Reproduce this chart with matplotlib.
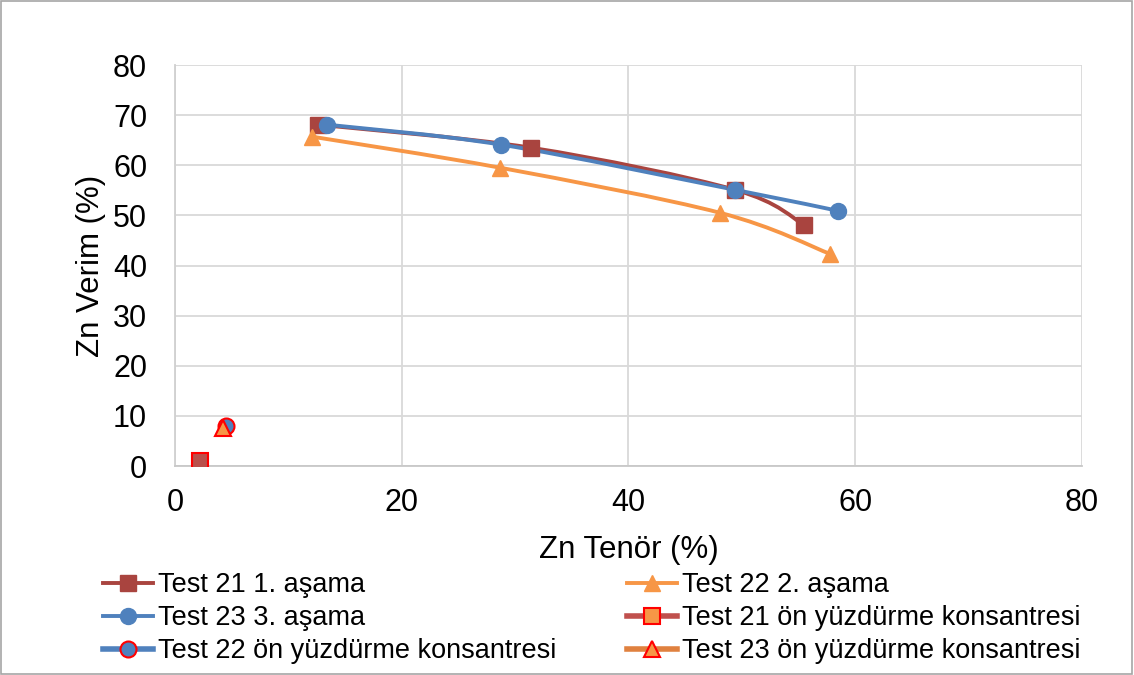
import matplotlib.pyplot as plt
from matplotlib.path import Path
from matplotlib.patches import PathPatch, Rectangle
from matplotlib.lines import Line2D
import numpy as np

plt.rcParams["font.family"] = ["Liberation Sans", "DejaVu Sans"]

# Aşama deneyleri (Zn tenör %, Zn verim %)
t21_x = [12.6, 31.4, 49.4, 55.5]
t21_y = [68.1, 63.5, 55.1, 48.1]
t22_x = [12.1, 28.7, 48.1, 57.8]
t22_y = [65.7, 59.5, 50.5, 42.3]
t23_x = [13.4, 28.8, 49.4, 58.5]
t23_y = [68.1, 64.1, 55.1, 50.9]

# Ön yüzdürme konsantreleri
on21_x, on21_y = [2.2], [1.0]
on22_x, on22_y = [4.5], [8.0]
on23_x, on23_y = [4.2], [7.5]

labels = ["Test 21 1. aşama", "Test 22 2. aşama", "Test 23 3. aşama",
          "Test 21 ön yüzdürme konsantresi", "Test 22 ön yüzdürme konsantresi",
          "Test 23 ön yüzdürme konsantresi"]

C_RED = "#A9443F"
C_ORANGE = "#F79646"
C_BLUE = "#4F81BD"
C_EDGE = "#FF0000"


def smooth_path(xs, ys):
    # Catmull-Rom eğrisi, kübik Bezier parçaları olarak
    p = np.column_stack([xs, ys]).astype(float)
    n = len(p)
    verts = [p[0]]
    codes = [Path.MOVETO]
    for i in range(n - 1):
        p0 = p[i - 1] if i > 0 else p[i]
        p3 = p[i + 2] if i + 2 < n else p[i + 1]
        c1 = p[i] + (p[i + 1] - p0) / 6.0
        c2 = p[i + 1] - (p3 - p[i]) / 6.0
        verts += [c1, c2, p[i + 1]]
        codes += [Path.CURVE4] * 3
    return Path(verts, codes)


fig = plt.figure(figsize=(11.34, 6.75), dpi=100)
ax = fig.add_axes([0.1543, 0.3096, 0.7998, 0.5941])

lw = 2.8
for xs, ys, col, mk in [(t21_x, t21_y, C_RED, "s"),
                        (t22_x, t22_y, C_ORANGE, "^"),
                        (t23_x, t23_y, C_BLUE, "o")]:
    ax.add_patch(PathPatch(smooth_path(xs, ys), facecolor="none",
                           edgecolor=col, lw=lw, capstyle="round", zorder=3))
    ax.plot(xs, ys, ls="none", marker=mk, ms=11.5, color=col, mec=col, zorder=4)

ax.plot(on21_x, on21_y, ls="none", marker="s", ms=11.5, mfc="#B9504B", mec=C_EDGE, mew=1.5, zorder=4)
ax.plot(on22_x, on22_y, ls="none", marker="o", ms=11.5, mfc=C_BLUE, mec=C_EDGE, mew=1.5, zorder=4)
ax.plot(on23_x, on23_y, ls="none", marker="^", ms=11.5, mfc=C_ORANGE, mec=C_EDGE, mew=1.5, zorder=5)

ax.set_xlim(0, 80)
ax.set_ylim(0, 80)
ax.set_xticks(range(0, 81, 20))
ax.set_yticks(range(0, 81, 10))
ax.grid(True, color="#D9D9D9", lw=1.3, zorder=0)
ax.set_axisbelow(True)
for s in ["top", "right"]:
    ax.spines[s].set_visible(False)
ax.spines["left"].set_color("#D0D0D0")
ax.spines["bottom"].set_color("#C8C8C8")
ax.spines["left"].set_linewidth(1.3)
ax.spines["bottom"].set_linewidth(1.3)
ax.tick_params(length=0, labelsize=22)
ax.tick_params(axis="x", pad=16)
ax.tick_params(axis="y", pad=20)
ax.set_xlabel("Zn Tenör (%)", fontsize=22.5, labelpad=12)
ax.set_ylabel("Zn Verim (%)", fontsize=22.5, labelpad=5)

handles = [
    Line2D([], [], color=C_RED, lw=lw, marker="s", ms=11.5, mec=C_RED),
    Line2D([], [], color=C_ORANGE, lw=lw, marker="^", ms=11.5, mec=C_ORANGE),
    Line2D([], [], color=C_BLUE, lw=lw, marker="o", ms=11.5, mec=C_BLUE),
    Line2D([], [], color="#C0504D", lw=4, marker="s", ms=11.5, mfc=C_ORANGE, mec=C_EDGE, mew=1.5),
    Line2D([], [], color=C_BLUE, lw=4, marker="o", ms=11.5, mfc=C_BLUE, mec=C_EDGE, mew=1.5),
    Line2D([], [], color="#E0813F", lw=4, marker="^", ms=11.5, mfc=C_ORANGE, mec=C_EDGE, mew=1.5),
]
order = [0, 2, 4, 1, 3, 5]
fig.legend([handles[i] for i in order], [labels[i] for i in order],
           loc="upper left", bbox_to_anchor=(0.0785, 0.1726),
           bbox_transform=fig.transFigure, ncol=2, frameon=False,
           fontsize=19.5, handlelength=1.85, handletextpad=0.2,
           columnspacing=2.6, labelspacing=0.26, borderpad=0)

fig.add_artist(Rectangle((0.001, 0.001), 0.997, 0.997, transform=fig.transFigure,
                         fill=False, edgecolor="#A6A6A6", lw=1.2))

fig.savefig("out.png", dpi=100)
